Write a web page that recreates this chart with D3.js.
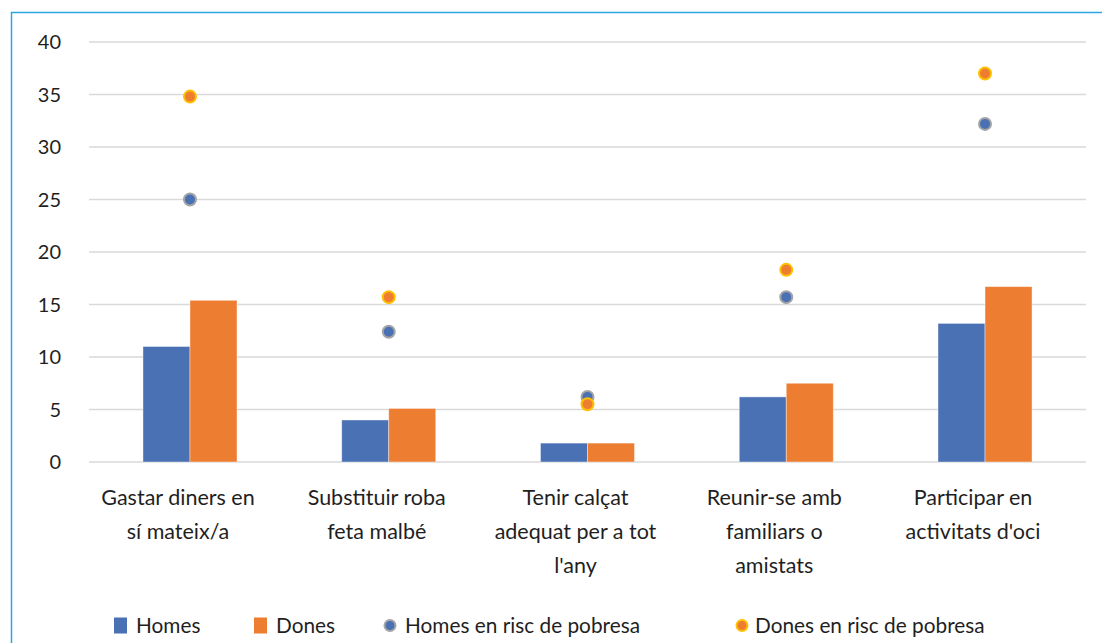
<!DOCTYPE html>
<html>
<head>
<meta charset="utf-8">
<script src="https://cdn.jsdelivr.net/npm/d3@7"></script>
<style>
  body { margin: 0; background: #fff; }
  text { font-family: Lato, "Open Sans", sans-serif; fill: #1f1f1f; }
</style>
</head>
<body>
<div id="chart"></div>
<script>
const categories = [
  ["Gastar diners en", "sí mateix/a"],
  ["Substituir roba", "feta malbé"],
  ["Tenir calçat", "adequat per a tot", "l'any"],
  ["Reunir-se amb", "familiars o", "amistats"],
  ["Participar en", "activitats d'oci"]
];
const homes = [11.0, 4.0, 1.8, 6.2, 13.2];
const dones = [15.4, 5.1, 1.8, 7.5, 16.7];
const homesRisc = [25.0, 12.4, 6.2, 15.7, 32.2];
const donesRisc = [34.8, 15.7, 5.5, 18.3, 37.0];
const yTicks = [0, 5, 10, 15, 20, 25, 30, 35, 40];

const width = 1102, height = 643;
const margin = { top: 42, left: 89 };
const innerW = 997, innerH = 420;

const svg = d3.select("#chart").append("svg")
  .attr("width", width)
  .attr("height", height);

// outer frame (only top/left visible in the crop)
svg.append("path")
  .attr("d", `M11.5,${height} V12.5 H${width}`)
  .attr("fill", "none")
  .attr("stroke", "#2aa7e1")
  .attr("stroke-width", 1.5);

const g = svg.append("g")
  .attr("transform", `translate(${margin.left},${margin.top})`);

// categories sit a little inside the gridline span
const x0 = d3.scaleBand()
  .domain(d3.range(categories.length))
  .range([1.6, 995.4])
  .paddingInner(0.527)
  .paddingOuter(0.2635);

const x1 = d3.scaleBand()
  .domain(["homes", "dones"])
  .range([0, x0.bandwidth()]);

const y = d3.scaleLinear().domain([0, 40]).range([innerH, 0]);

// gridlines
g.append("g")
  .selectAll("line")
  .data(yTicks)
  .join("line")
  .attr("x1", 0)
  .attr("x2", innerW)
  .attr("y1", d => y(d))
  .attr("y2", d => y(d))
  .attr("stroke", "#d9d9d9")
  .attr("stroke-width", 1.5);

// y tick labels
g.append("g")
  .selectAll("text")
  .data(yTicks)
  .join("text")
  .attr("x", -28)
  .attr("y", d => y(d))
  .attr("dy", "0.36em")
  .attr("text-anchor", "end")
  .style("font-size", "20px")
  .text(d => d);

const colors = { homes: "#4a71b4", dones: "#ed7d31" };
const series = { homes: homes, dones: dones };

// bars
["homes", "dones"].forEach(key => {
  g.append("g")
    .selectAll("rect")
    .data(series[key])
    .join("rect")
    .attr("x", (d, i) => x0(i) + x1(key))
    .attr("y", d => y(d))
    .attr("width", x1.bandwidth())
    .attr("height", d => innerH - y(d))
    .attr("fill", colors[key])
    .attr("stroke", "#fff")
    .attr("stroke-opacity", 0.5)
    .attr("stroke-width", 0.8);
});

// risk markers
const markers = [
  { data: homesRisc, fill: "#4a71b4", stroke: "#a5a5a5" },
  { data: donesRisc, fill: "#ed7d31", stroke: "#ffc000" }
];
markers.forEach(m => {
  g.append("g")
    .selectAll("circle")
    .data(m.data)
    .join("circle")
    .attr("cx", (d, i) => x0(i) + x0.bandwidth() / 2)
    .attr("cy", d => y(d))
    .attr("r", 6)
    .attr("fill", m.fill)
    .attr("stroke", m.stroke)
    .attr("stroke-width", 2);
});

// category labels (Excel centres them a bit left of the group)
const labels = g.append("g");
categories.forEach((lines, i) => {
  const cx = x0(i) + x0.bandwidth() / 2 - 12;
  const t = labels.append("text")
    .attr("x", cx)
    .attr("y", innerH + 43)
    .attr("text-anchor", "middle")
    .style("font-size", "21.5px");
  lines.forEach((ln, k) => {
    t.append("tspan")
      .attr("x", cx)
      .attr("dy", k === 0 ? 0 : 34)
      .text(ln);
  });
});

// legend
const legendItems = [
  { name: "Homes", type: "rect", fill: "#4a71b4", x: 114, tx: 136 },
  { name: "Dones", type: "rect", fill: "#ed7d31", x: 254, tx: 276 },
  { name: "Homes en risc de pobresa", type: "circle", fill: "#4a71b4", stroke: "#a5a5a5", x: 390, tx: 405 },
  { name: "Dones en risc de pobresa", type: "circle", fill: "#ed7d31", stroke: "#ffc000", x: 742, tx: 755 }
];
const legend = svg.append("g").attr("transform", "translate(0,625)");
legendItems.forEach(it => {
  if (it.type === "rect") {
    legend.append("rect")
      .attr("x", it.x).attr("y", -7.5)
      .attr("width", 13).attr("height", 16)
      .attr("fill", it.fill);
  } else {
    legend.append("circle")
      .attr("cx", it.x).attr("cy", 0.5)
      .attr("r", 5.5)
      .attr("fill", it.fill)
      .attr("stroke", it.stroke)
      .attr("stroke-width", 2);
  }
  legend.append("text")
    .attr("x", it.tx)
    .attr("y", 0)
    .attr("dy", "0.36em")
    .style("font-size", "20.8px")
    .text(it.name);
});
</script>
</body>
</html>
